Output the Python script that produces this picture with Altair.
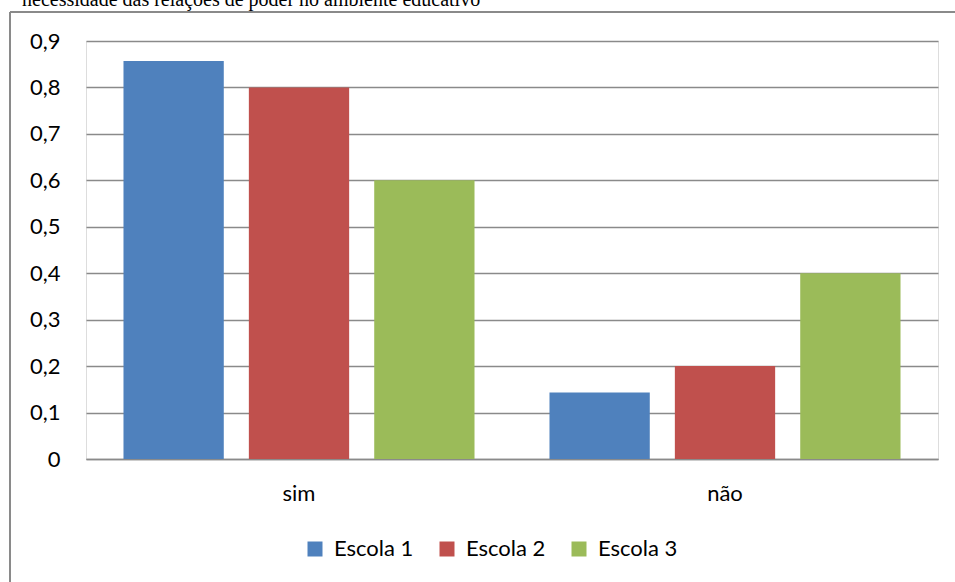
import altair as alt
import pandas as pd

categories = ["sim", "não"]
schools = ["Escola 1", "Escola 2", "Escola 3"]
values_sim = [0.857, 0.8, 0.6]
values_nao = [0.143, 0.2, 0.4]
colors = ["#4F81BD", "#C0504D", "#9BBB59"]
y_ticks = [0, 0.1, 0.2, 0.3, 0.4, 0.5, 0.6, 0.7, 0.8, 0.9]
title_text = "necessidade das relações de poder no ambiente educativo"

rows = []
for s, v in zip(schools, values_sim):
    rows.append({"cat": "sim", "escola": s, "valor": v})
for s, v in zip(schools, values_nao):
    rows.append({"cat": "não", "escola": s, "valor": v})
df = pd.DataFrame(rows)

FONT = "Lato"
FS = 22
GRID = "#8a8a8a"

bars = alt.Chart(df).mark_bar().encode(
    x=alt.X("cat:N", sort=categories, title=None,
            scale=alt.Scale(paddingInner=0.176, paddingOuter=0.088),
            axis=alt.Axis(labelAngle=0, ticks=False, domain=True, domainColor=GRID,
                          domainWidth=1.5, labelFont=FONT, labelFontSize=FS,
                          labelColor="#000", labelPadding=24)),
    xOffset=alt.XOffset("escola:N", sort=schools,
                        scale=alt.Scale(paddingInner=0.2, paddingOuter=0)),
    y=alt.Y("valor:Q", title=None,
            scale=alt.Scale(domain=[0, 0.9], nice=False),
            axis=alt.Axis(values=y_ticks, ticks=False, domain=False,
                          grid=True, gridColor=GRID, gridWidth=1.5,
                          labelFont=FONT, labelFontSize=FS, labelColor="#000",
                          labelPadding=26,
                          labelExpr="datum.value == 0 ? '0' : replace(format(datum.value, '.1f'), '.', ',')")),
    color=alt.Color("escola:N", sort=schools,
                    scale=alt.Scale(domain=schools, range=colors),
                    legend=alt.Legend(title=None, orient="none", direction="horizontal",
                                      legendX=218, legendY=497,
                                      symbolType="square", symbolSize=225,
                                      symbolStrokeWidth=0,
                                      labelFont=FONT, labelFontSize=FS, labelColor="#000",
                                      labelOffset=8, columnPadding=22)),
)

border_left = alt.Chart(df).mark_rule(color=GRID, strokeWidth=1.5, clip=False).encode(
    x=alt.value(-76), y=alt.value(-29), y2=alt.value(700)
)
border_top = alt.Chart(df).mark_rule(color=GRID, strokeWidth=1.5, clip=False).encode(
    x=alt.value(-76), x2=alt.value(1000), y=alt.value(-29)
)
title = alt.Chart(pd.DataFrame({"t": [title_text]})).mark_text(
    font="Liberation Serif", fontSize=20, align="left", baseline="alphabetic",
    color="#000", clip=False
).encode(text="t:N", x=alt.value(-64), y=alt.value(-35))

chart = alt.layer(bars, border_left, border_top, title).properties(
    width=852, height=418,
    padding={"left": 86, "top": 41, "right": 17, "bottom": 123},
    autosize=alt.AutoSizeParams(type="none"),
).configure_view(stroke=None).configure(background="white")

chart.save("out.html", embed_options={"renderer": "svg", "actions": False})
